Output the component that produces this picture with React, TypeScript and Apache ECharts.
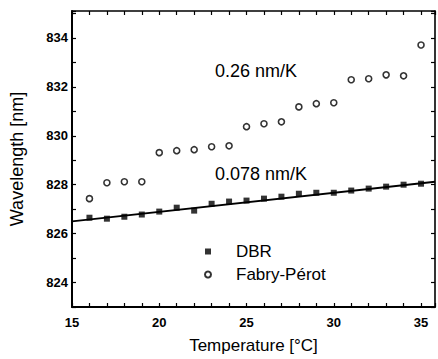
import React, { useEffect, useRef } from "react";
import * as echarts from "echarts";

const temperatures = [16, 17, 18, 19, 20, 21, 22, 23, 24, 25, 26, 27, 28, 29, 30, 31, 32, 33, 34, 35];
const dbrWavelength = [826.65, 826.61, 826.69, 826.78, 826.9, 827.06, 826.94, 827.22, 827.31, 827.35, 827.43, 827.51, 827.63, 827.67, 827.67, 827.76, 827.84, 827.92, 828.0, 828.04];
const fpWavelength = [827.43, 828.08, 828.12, 828.12, 829.31, 829.39, 829.43, 829.55, 829.59, 830.37, 830.49, 830.57, 831.18, 831.31, 831.35, 832.29, 832.33, 832.49, 832.45, 833.71];
const fitX = [15, 35.8];
const fitY = [826.5, 828.12];
const annotations = ["0.26 nm/K", "0.078 nm/K"];
const seriesNames = ["DBR", "Fabry-Pérot"];

const FONT = "'Liberation Sans', Arial, Helvetica, sans-serif";

export default function App() {
  const ref = useRef<HTMLDivElement>(null);
  useEffect(() => {
    if (!ref.current) return;
    const chart = echarts.init(ref.current, null, { renderer: "svg" });
    const xMin = 15, xMax = 35.8, yMin = 823, yMax = 835.1;
    const axisCommon = {
      type: "value" as const,
      splitLine: { show: false },
      axisLine: { show: true, lineStyle: { color: "#000", width: 2 } },
      axisTick: { show: true, inside: true, length: 4, lineStyle: { color: "#000", width: 1.2 } },
    };
    chart.setOption({
      animation: false,
      backgroundColor: "#fff",
      grid: { left: 72, top: 11, right: 0, bottom: 52 },
      xAxis: [
        {
          ...axisCommon,
          min: xMin,
          max: xMax,
          interval: 1,
          name: "Temperature [°C]",
          nameLocation: "middle",
          nameGap: 30,
          nameTextStyle: { fontFamily: FONT, fontSize: 17, color: "#000" },
          axisLabel: {
            margin: 9,
            fontFamily: FONT,
            fontSize: 13,
            fontWeight: "bold",
            color: "#000",
            formatter: (v: number) => (Math.abs(v % 5) < 1e-6 ? String(v) : ""),
          },
        },
        {
          ...axisCommon,
          position: "top",
          min: xMin,
          max: xMax,
          interval: 1,
          axisLine: { show: true, lineStyle: { color: "#000", width: 1.6 } },
          axisLabel: { show: false },
        },
      ],
      yAxis: [
        {
          ...axisCommon,
          min: yMin,
          max: yMax,
          interval: 1,
          name: "Wavelength [nm]",
          nameLocation: "middle",
          nameGap: 46,
          nameTextStyle: { fontFamily: FONT, fontSize: 18, color: "#000" },
          axisLabel: {
            margin: 4,
            fontFamily: FONT,
            fontSize: 13,
            fontWeight: "bold",
            color: "#000",
            formatter: (v: number) => (Math.abs(v % 2) < 1e-6 ? String(v) : ""),
          },
        },
        {
          ...axisCommon,
          position: "right",
          min: yMin,
          max: yMax,
          interval: 1,
          axisLine: { show: true, lineStyle: { color: "#000", width: 1.6 } },
          axisLabel: { show: false },
        },
      ],
      legend: {
        orient: "vertical",
        left: 199,
        top: 238,
        itemWidth: 6,
        itemHeight: 6,
        itemGap: 6,
        data: seriesNames,
        textStyle: { fontFamily: FONT, fontSize: 17, color: "#000", padding: [0, 0, 0, 20] },
      },
      graphic: [
        { type: "text", left: 215, top: 62, style: { text: annotations[0], font: `18px ${FONT}`, fill: "#000" } },
        { type: "text", left: 215, top: 165, style: { text: annotations[1], font: `18px ${FONT}`, fill: "#000" } },
      ],
      series: [
        {
          name: "fit",
          type: "line",
          data: fitX.map((x, i) => [x, fitY[i]]),
          showSymbol: false,
          symbol: "none",
          lineStyle: { color: "#000", width: 2 },
          z: 1,
        },
        {
          name: seriesNames[0],
          type: "scatter",
          data: temperatures.map((t, i) => [t, dbrWavelength[i]]),
          symbol: "rect",
          symbolSize: 6,
          itemStyle: { color: "#000" },
          z: 3,
        },
        {
          name: seriesNames[1],
          type: "scatter",
          data: temperatures.map((t, i) => [t, fpWavelength[i]]),
          symbol: "circle",
          symbolSize: 6,
          itemStyle: { color: "#fff", borderColor: "#000", borderWidth: 1.6 },
          z: 3,
        },
      ],
    });
    return () => chart.dispose();
  }, []);
  return (
    <div
      ref={ref}
      style={{ position: "fixed", left: 0, top: 0, width: 438, height: 359, background: "#fff" }}
    />
  );
}
